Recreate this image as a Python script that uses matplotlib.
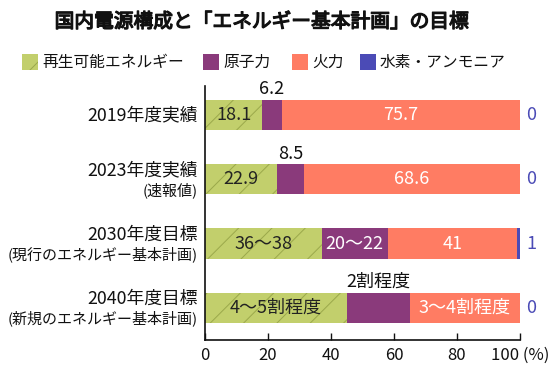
import matplotlib
matplotlib.use("Agg")
import matplotlib.pyplot as plt
from matplotlib.patches import Rectangle
import matplotlib.patheffects as pe
import matplotlib.transforms as mtrans

plt.rcParams['font.family'] = ['Noto Sans CJK JP', 'DejaVu Sans']
plt.rcParams['hatch.linewidth'] = 0.7

title = "国内電源構成と「エネルギー基本計画」の目標"
series_names = ["再生可能エネルギー", "原子力", "火力", "水素・アンモニア"]
row_main = ["2019年度実績", "2023年度実績", "2030年度目標", "2040年度目標"]
row_sub = ["", "(速報値)", "(現行のエネルギー基本計画)", "(新規のエネルギー基本計画)"]

renew = [18.1, 22.9, 37, 45]
nuclear = [6.2, 8.5, 21, 20]
thermal = [75.7, 68.6, 41, 35]
hydrogen = [0, 0, 1, 0]

renew_lbl = ["18.1", "22.9", "36〜38", "4〜5割程度"]
nuclear_lbl = ["6.2", "8.5", "20〜22", "2割程度"]
nuclear_inside = [False, False, True, False]
thermal_lbl = ["75.7", "68.6", "41", "3〜4割程度"]
hydrogen_lbl = ["0", "0", "1", "0"]

xticks = [0, 20, 40, 60, 80, 100]
xticklabels = ["0", "20", "40", "60", "80", "100 (%)"]

c_green = "#C2CF6C"
c_hatch = "#9AA84A"
c_purple = "#8A3A7B"
c_coral = "#FF7C63"
c_blue = "#4B4BB6"

W, H = 550, 376
fig = plt.figure(figsize=(5.5, 3.76), dpi=100)
ax = fig.add_axes([205 / W, 1 - 340 / H, 315 / W, (340 - 86) / H])

y = list(range(len(row_main)))
h = 30 / 64

left = [0] * 4
ax.barh(y, renew, height=h, left=left, color=c_green, edgecolor=c_hatch, hatch='/', linewidth=0)
left2 = [a for a in renew]
ax.barh(y, nuclear, height=h, left=left2, color=c_purple, linewidth=0)
left3 = [a + b for a, b in zip(renew, nuclear)]
ax.barh(y, thermal, height=h, left=left3, color=c_coral, linewidth=0)
left4 = [a + b for a, b in zip(left3, thermal)]
ax.barh(y, hydrogen, height=h, left=left4, color=c_blue, linewidth=0)

fs = 13
for i in y:
    ax.text(renew[i] / 2, i, renew_lbl[i], ha='center', va='center', fontsize=fs, color='#222222')
    cx = renew[i] + nuclear[i] / 2
    if nuclear_inside[i]:
        ax.text(cx, i, nuclear_lbl[i], ha='center', va='center', fontsize=fs, color='white')
    else:
        ax.text(cx, i - 0.40, nuclear_lbl[i], ha='center', va='center', fontsize=fs, color='#111111')
    ax.text(left3[i] + thermal[i] / 2, i, thermal_lbl[i], ha='center', va='center', fontsize=fs, color='white')
    ax.text(102, i, hydrogen_lbl[i], ha='left', va='center', fontsize=fs, color=c_blue, clip_on=False)

ytr = ax.get_yaxis_transform()
for i in y:
    if row_sub[i]:
        ax.text(-0.022, i - 0.14, row_main[i], transform=ytr, ha='right', va='center', fontsize=12.8, color='#111111')
        ax.text(-0.022, i + 0.17, row_sub[i], transform=ytr, ha='right', va='center', fontsize=10.8, color='#111111')
    else:
        ax.text(-0.022, i, row_main[i], transform=ytr, ha='right', va='center', fontsize=12.8, color='#111111')

ax.set_xlim(0, 100)
ax.set_ylim(3.5, -0.45)
ax.set_yticks([])
ax.set_xticks(xticks)
ax.set_xticklabels(xticklabels, fontsize=12)
lab = ax.get_xticklabels()[-1]
lab.set_transform(lab.get_transform() + mtrans.ScaledTranslation(-10 / 100, 0, fig.dpi_scale_trans))
ax.tick_params(axis='x', direction='in', length=5, width=1, pad=5, colors='#111111')
for s in ['top', 'right']:
    ax.spines[s].set_visible(False)
for s in ['left', 'bottom']:
    ax.spines[s].set_linewidth(1.2)
    ax.spines[s].set_color('#111111')

fig.text(262 / W, 1 - 22 / H, title, ha='center', va='center', fontsize=14.2, color='#111111',
         path_effects=[pe.withStroke(linewidth=0.9, foreground='#111111')])

# legend
leg_x = [22, 203, 292, 360]
leg_cols = [c_green, c_purple, c_coral, c_blue]
ly = 62
for i, (lx, col, name) in enumerate(zip(leg_x, leg_cols, series_names)):
    r = Rectangle((lx / W, 1 - (ly + 8) / H), 16 / W, 16 / H, transform=fig.transFigure,
                  facecolor=col, edgecolor=c_hatch if i == 0 else col, hatch='/' if i == 0 else None,
                  linewidth=0)
    fig.patches.append(r)
    fig.text((lx + 20) / W, 1 - ly / H, name, ha='left', va='center', fontsize=11.3, color='#111111')

fig.savefig("out.png", dpi=100)
